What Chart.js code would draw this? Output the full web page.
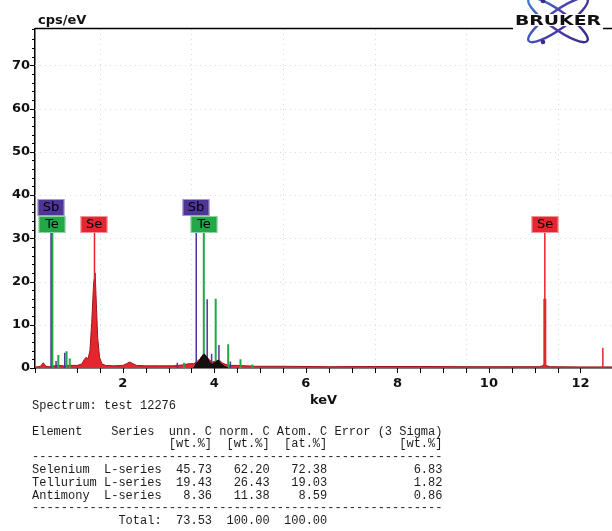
<!DOCTYPE html>
<html>
<head>
<meta charset="utf-8">
<script src="https://cdn.jsdelivr.net/npm/chart.js@4.4.0/dist/chart.umd.min.js"></script>
<style>
  html, body { margin: 0; padding: 0; background: #fff; }
  #wrap { position: relative; width: 612px; height: 531px; overflow: hidden; }
  #wrap canvas { position: absolute; left: 0; top: 0; }
  #report {
    position: absolute; left: 32px; top: 400px; margin: 0;
    font: 12px/12.8px "Liberation Mono", monospace; color: #1c1c1c;
  }
</style>
</head>
<body>
<div id="wrap">
  <canvas id="spec" width="612" height="412"></canvas>
  <pre id="report"></pre>
</div>
<script>
// ── DATA ─────────────────────────────────────────
const SPEC_KEV = [0.08, 0.14, 0.20, 0.26, 0.32, 0.40, 0.50, 0.60, 0.70, 0.85, 1.00, 1.10, 1.16, 1.20, 1.24,
                  1.28, 1.32, 1.36, 1.395, 1.42, 1.45, 1.49, 1.54, 1.62, 1.80, 2.00, 2.08, 2.15, 2.22, 2.30,
                  2.50, 2.80, 3.10, 3.30, 3.45, 3.55, 3.62, 3.70, 3.77, 3.83, 3.90, 3.96, 4.03, 4.10, 4.17,
                  4.25, 4.35, 4.50, 4.70, 4.90, 5.50, 6.50, 7.50, 8.50, 9.50, 10.50, 11.10, 11.18, 11.22,
                  11.26, 11.35, 12.00, 12.40, 12.69];
const SPEC_CPS = [0.2, 0.3, 0.4, 1.2, 0.4, 0.3, 0.5, 0.6, 0.5, 0.6, 0.6, 0.9, 2.0, 2.5, 2.1,
                  4.0, 10.5, 19.5, 22.0, 15.0, 7.0, 2.5, 1.0, 0.6, 0.5, 0.6, 1.0, 1.4, 1.0, 0.6,
                  0.5, 0.5, 0.5, 0.7, 1.0, 1.0, 1.5, 2.2, 3.4, 2.6, 1.8, 1.4, 1.6, 1.9, 1.2,
                  0.8, 0.6, 0.6, 0.5, 0.4, 0.4, 0.3, 0.35, 0.35, 0.3, 0.3, 0.3, 0.5, 1.0,
                  0.5, 0.3, 0.25, 0.25, 0.25];

// dark (overlapping Sb/Te) part of the spectrum
const DARK_KEV = [3.55, 3.60, 3.66, 3.72, 3.78, 3.84, 3.90, 3.95, 4.02, 4.08, 4.14, 4.22, 4.30];
const DARK_CPS = [0.0, 1.0, 1.5, 2.6, 3.2, 2.4, 1.2, 0.8, 1.3, 1.8, 1.0, 0.4, 0.0];

// element line markers
const SB_KEV = [0.43, 0.54, 0.73, 3.19, 3.604, 3.843, 3.94, 4.10, 4.35];
const SB_CPS = [35.2, 1.6, 3.5, 1.2, 35.2, 15.9, 3.3, 5.3, 1.5];
const TE_KEV = [0.46, 0.59, 0.77, 0.84, 3.335, 3.769, 4.029, 4.302, 4.571, 4.83];
const TE_CPS = [31.3, 3.0, 3.9, 2.2, 1.2, 31.3, 16.0, 5.5, 2.0, 0.8];
const SE_KEV = [1.38, 11.222, 12.49];
const SE_CPS = [31.3, 31.3, 4.7];
const SE_KA_KEV = [11.222];
const SE_KA_CPS = [16.0];

// marker labels
const LABEL_TEXT = ['Sb', 'Te', 'Se', 'Sb', 'Te', 'Se'];
const LABEL_KEV  = [0.43, 0.46, 1.38, 3.604, 3.769, 11.222];
const LABEL_CPS  = [35.2, 31.3, 31.3, 35.2, 31.3, 31.3];

const X_TICK_LABELS = [2, 4, 6, 8, 10, 12];
const Y_TICK_LABELS = [0, 10, 20, 30, 40, 50, 60, 70];
const X_GRID = [1.5, 3.5, 5.5, 7.5, 9.5, 11.5];

const REPORT_LINES = [
  'Spectrum: test 12276',
  '',
  'Element    Series  unn. C norm. C Atom. C Error (3 Sigma)',
  '                   [wt.%]  [wt.%]  [at.%]          [wt.%]',
  '---------------------------------------------------------',
  'Selenium  L-series  45.73   62.20   72.38            6.83',
  'Tellurium L-series  19.43   26.43   19.03            1.82',
  'Antimony  L-series   8.36   11.38    8.59            0.86',
  '---------------------------------------------------------',
  '            Total:  73.53  100.00  100.00'
];

const COLORS = { Sb: '#4f3598', Te: '#22a847', Se: '#e3262f' };

// ── HELPERS ──────────────────────────────────────
function xy(kev, cps) { return kev.map((k, i) => ({ x: k, y: cps[i] })); }
function stems(kev, cps) {
  const pts = [];
  kev.forEach((k, i) => { pts.push({ x: k, y: 0 }, { x: k, y: cps[i] }, { x: k, y: null }); });
  return pts;
}
function stemSet(data, color, width, order) {
  return { data, borderColor: color, borderWidth: width, pointRadius: 0, fill: false,
           spanGaps: false, tension: 0, order };
}

document.getElementById('report').textContent = REPORT_LINES.join('\n');

// ── DECORATION PLUGIN ────────────────────────────
const deco = {
  id: 'deco',
  beforeDatasetsDraw(chart) {
    const { ctx, chartArea: a, scales: { x, y } } = chart;
    ctx.save();
    ctx.strokeStyle = '#d6dbe0';
    ctx.lineWidth = 1;
    ctx.setLineDash([1, 4]);
    Y_TICK_LABELS.slice(1).forEach(v => {
      const py = Math.round(y.getPixelForValue(v)) + 0.5;
      ctx.beginPath(); ctx.moveTo(a.left, py); ctx.lineTo(a.right, py); ctx.stroke();
    });
    X_GRID.forEach(v => {
      const px = Math.round(x.getPixelForValue(v)) + 0.5;
      ctx.beginPath(); ctx.moveTo(px, a.top); ctx.lineTo(px, a.bottom); ctx.stroke();
    });
    ctx.restore();
  },
  afterDatasetsDraw(chart) {
    const { ctx, scales: { x, y } } = chart;
    ctx.save();
    ctx.font = '13px "DejaVu Sans"';
    ctx.textAlign = 'center';
    ctx.textBaseline = 'middle';
    LABEL_TEXT.forEach((t, i) => {
      const px = Math.round(x.getPixelForValue(LABEL_KEV[i]));
      const pb = Math.round(y.getPixelForValue(LABEL_CPS[i]));
      const w = 27, h = 17;
      ctx.fillStyle = COLORS[t];
      ctx.fillRect(px - w / 2, pb - h, w, h);
      ctx.strokeStyle = 'rgba(255,255,255,0.5)';
      ctx.lineWidth = 1;
      ctx.strokeRect(px - w / 2 + 0.5, pb - h + 0.5, w - 1, h - 1);
      ctx.fillStyle = '#000';
      ctx.fillText(t, px, pb - h / 2 + 0.5);
    });
    ctx.restore();
  },
  afterDraw(chart) {
    const { ctx, chartArea: a, scales: { x, y } } = chart;
    ctx.save();
    ctx.strokeStyle = '#000';
    ctx.lineWidth = 1;
    // tick marks
    y.ticks.forEach(t => {
      const py = Math.round(y.getPixelForValue(t.value)) + 0.5;
      const len = t.value % 10 === 0 ? 5 : 3;
      ctx.beginPath(); ctx.moveTo(a.left - len, py); ctx.lineTo(a.left, py); ctx.stroke();
    });
    x.ticks.forEach(t => {
      const px = Math.round(x.getPixelForValue(t.value)) + 0.5;
      ctx.beginPath(); ctx.moveTo(px, a.bottom); ctx.lineTo(px, a.bottom + 5); ctx.stroke();
    });
    // top frame line, broken by the logo
    ctx.lineWidth = 1.5;
    ctx.beginPath();
    ctx.moveTo(a.left, a.top - 0.5); ctx.lineTo(513, a.top - 0.5);
    ctx.moveTo(603, a.top - 0.5); ctx.lineTo(612, a.top - 0.5);
    ctx.stroke();
    // unit label
    ctx.fillStyle = '#111';
    ctx.font = 'bold 13px "DejaVu Sans"';
    ctx.textAlign = 'left';
    ctx.textBaseline = 'alphabetic';
    ctx.fillText('cps/eV', 38, 24);
    // logo
    const cx = 558, cy = 20;
    const g = ctx.createLinearGradient(525, 0, 590, 44);
    g.addColorStop(0, '#3b7fd6');
    g.addColorStop(0.5, '#4a3fa8');
    g.addColorStop(1, '#2f2a86');
    ctx.strokeStyle = g;
    ctx.lineWidth = 2.4;
    [0.62, -0.62].forEach(ang => {
      ctx.beginPath(); ctx.ellipse(cx, cy, 36, 9, ang, 0, Math.PI * 2); ctx.stroke();
    });
    ctx.fillStyle = '#3a2c8c';
    [[543, 42], [543, 1]].forEach(([dx, dy]) => {
      ctx.beginPath(); ctx.arc(dx, dy, 2.3, 0, Math.PI * 2); ctx.fill();
    });
    ctx.fillStyle = '#fff';
    ctx.fillRect(514, 14, 88, 12);
    ctx.font = 'bold 14px "DejaVu Sans"';
    const tw = ctx.measureText('BRUKER').width;
    ctx.translate(515, 25);
    ctx.scale(86 / tw, 1);
    ctx.fillStyle = '#111';
    ctx.fillText('BRUKER', 0, 0);
    ctx.restore();
  }
};

// ── CHART ────────────────────────────────────────
Chart.defaults.font.family = '"DejaVu Sans", sans-serif';

new Chart(document.getElementById('spec'), {
  type: 'line',
  data: {
    datasets: [
      { data: xy(SPEC_KEV, SPEC_CPS), borderColor: '#a01414', borderWidth: 1,
        backgroundColor: '#e3262f', fill: 'origin', pointRadius: 0, tension: 0, order: 4 },
      stemSet(stems(SB_KEV, SB_CPS), COLORS.Sb, 1.5, 3),
      stemSet(stems(TE_KEV, TE_CPS), COLORS.Te, 2, 3),
      stemSet(stems(SE_KEV, SE_CPS), COLORS.Se, 1.5, 3),
      stemSet(stems(SE_KA_KEV, SE_KA_CPS), COLORS.Se, 3, 3),
      { data: xy(DARK_KEV, DARK_CPS), borderColor: '#000', borderWidth: 1,
        backgroundColor: '#141010', fill: 'origin', pointRadius: 0, tension: 0, order: 1 }
    ]
  },
  options: {
    responsive: false,
    animation: false,
    devicePixelRatio: 1,
    layout: { padding: { top: 29, left: 0, right: 0, bottom: 0 } },
    plugins: { legend: { display: false }, tooltip: { enabled: false } },
    scales: {
      x: {
        type: 'linear', min: 0.08, max: 12.69,
        grid: { display: false, drawTicks: false },
        border: { display: true, color: '#000', width: 1.5 },
        ticks: {
          stepSize: 0.5, autoSkip: false, maxRotation: 0, padding: 8, color: '#111',
          font: { size: 13, weight: 'bold' },
          callback: v => X_TICK_LABELS.includes(v) ? String(v) : ''
        },
        title: { display: true, text: 'keV', color: '#111', font: { size: 13, weight: 'bold' },
                 padding: { top: 0, bottom: 4 } },
        afterFit: s => { s.height = 44; s.paddingLeft = 0; s.paddingRight = 0; }
      },
      y: {
        min: 0, max: 78.4,
        grid: { display: false, drawTicks: false },
        border: { display: true, color: '#000', width: 1.5 },
        ticks: {
          stepSize: 2, autoSkip: false, padding: 5, color: '#111',
          font: { size: 13, weight: 'bold' },
          callback: v => Y_TICK_LABELS.includes(v) ? String(v) : ''
        },
        afterFit: s => { s.width = 35; s.paddingTop = 0; s.paddingBottom = 0; }
      }
    }
  },
  plugins: [deco]
});
</script>
</body>
</html>
